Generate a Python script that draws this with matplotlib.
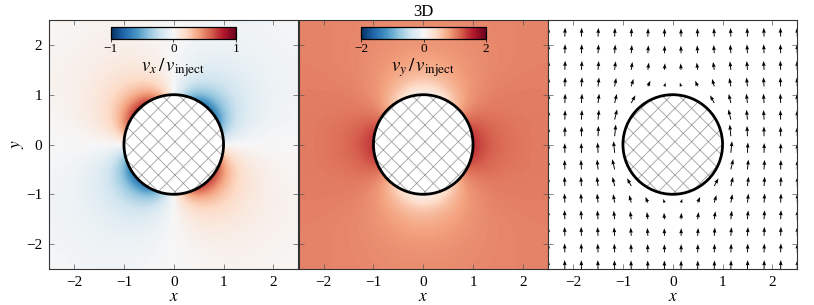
# libraries
import matplotlib
matplotlib.use('Agg')
import matplotlib.pyplot as plt
import numpy as np

plt.rcParams['font.family'] = ['Liberation Serif', 'DejaVu Serif']
plt.rcParams['mathtext.fontset'] = 'stix'
plt.rcParams['font.size'] = 11
plt.rcParams['hatch.linewidth'] = 0.6

# Data: one quadrant only (x >= 0, y >= 0), the panels are symmetric
# heat maps: rows y = 0, 0.25 .. 2.5, columns x = 0, 0.25 .. 2.5
vx_size = [
    [0, 0, 0, 0, 0, 0, 0, 0, 0, 0, 0],
    [0, .70, .80, .80, .32, .14, .07, .04, .02, .01, .01],
    [0, .80, 1.0, .95, .43, .21, .11, .07, .04, .03, .02],
    [0, .80, .95, .63, .37, .21, .13, .08, .05, .03, .02],
    [0, .32, .43, .37, .27, .18, .12, .08, .05, .04, .03],
    [0, .14, .21, .21, .18, .14, .10, .07, .05, .04, .03],
    [0, .07, .11, .13, .12, .10, .08, .06, .05, .04, .03],
    [0, .04, .07, .08, .08, .07, .06, .05, .04, .03, .03],
    [0, .02, .04, .05, .05, .05, .05, .04, .03, .03, .02],
    [0, .01, .03, .03, .04, .04, .04, .03, .03, .02, .02],
    [0, .01, .02, .02, .03, .03, .03, .03, .02, .02, .02],
]
vy_map = [
    [1.0, 1.5, 1.6, 1.7, 1.50, 1.26, 1.15, 1.09, 1.06, 1.04, 1.03],
    [0.0, .75, 1.2, 1.6, 1.38, 1.21, 1.13, 1.09, 1.06, 1.04, 1.03],
    [0.0, .30, .75, 1.05, 1.14, 1.12, 1.09, 1.06, 1.05, 1.04, 1.03],
    [-.3, -.2, .26, .79, .98, 1.03, 1.04, 1.04, 1.03, 1.03, 1.02],
    [0.0, .17, .50, .76, .91, .98, 1.01, 1.02, 1.02, 1.02, 1.02],
    [.49, .55, .68, .81, .90, .96, .99, 1.0, 1.01, 1.01, 1.01],
    [.70, .73, .79, .85, .91, .95, .97, .99, 1.0, 1.0, 1.0],
    [.81, .82, .85, .89, .92, .95, .97, .98, .99, 1.0, 1.0],
    [.88, .88, .90, .92, .94, .96, .97, .98, .99, .99, 1.0],
    [.91, .92, .92, .94, .95, .96, .97, .98, .99, .99, 1.0],
    [.94, .94, .94, .95, .96, .97, .98, .98, .99, .99, .99],
]

# arrows: rows and columns at 1/6, 1/2, 5/6 .. 5/2
nan = np.nan
u_size = [
    [nan, nan, nan, .13, .05, .02, .01, .01],
    [nan, nan, nan, .27, .11, .06, .03, .02],
    [nan, nan, .46, .24, .13, .07, .04, .03],
    [.13, .27, .24, .17, .11, .07, .04, .03],
    [.05, .11, .13, .11, .08, .06, .04, .03],
    [.02, .06, .07, .07, .06, .04, .03, .02],
    [.01, .03, .04, .04, .04, .03, .03, .02],
    [.01, .02, .03, .03, .03, .02, .02, .02],
]
v_map = [
    [nan, nan, nan, 1.29, 1.14, 1.08, 1.05, 1.03],
    [nan, nan, nan, 1.13, 1.09, 1.06, 1.04, 1.03],
    [nan, nan, .85, 1.0, 1.03, 1.03, 1.03, 1.02],
    [.41, .63, .83, .94, .99, 1.01, 1.01, 1.01],
    [.71, .79, .87, .94, .97, .99, 1.0, 1.0],
    [.84, .87, .91, .95, .97, .99, .99, 1.0],
    [.90, .92, .94, .96, .97, .98, .99, 1.0],
    [.94, .94, .95, .97, .98, .98, .99, .99],
]
arrow_pos = [1/6, 1/2, 5/6, 7/6, 3/2, 11/6, 13/6, 5/2]

ticks = [-2, -1, 0, 1, 2]


def mirror(quad, sign_x=1, sign_y=1, skip=1):
    # build all four quadrants from the top right one, row 0 is lowest y
    q = np.array(quad, dtype=float)
    right = np.vstack([sign_y * q[::-1][:len(q) - skip], q])
    left = sign_x * right[:, ::-1][:, :q.shape[1] - skip]
    return np.hstack([left, right])


def pixel_axes(x0, y0, x1, y1):
    # pixel box measured from the top left of the picture
    return fig.add_axes([x0 / 814, 1 - y1 / 305, (x1 - x0) / 814, (y1 - y0) / 305])


def finish(ax):
    circle = plt.Circle((0, 0), 1, facecolor='white', edgecolor='#a0a0a0', hatch='xx', lw=0, zorder=3)
    ax.add_patch(circle)
    ax.add_patch(plt.Circle((0, 0), 1, fill=False, edgecolor='black', lw=2.0, zorder=4))
    ax.set_xlim(-2.5, 2.5)
    ax.set_ylim(-2.5, 2.5)
    ax.set_aspect('equal')
    ax.set_xticks(ticks)
    ax.set_yticks(ticks)
    ax.tick_params(direction='in', top=True, right=True, length=3.5, width=0.5, color='#555555', pad=5)
    ax.set_xlabel('$x$', fontsize=12.5, labelpad=0)
    for side in ax.spines.values():
        side.set_linewidth(0.8)
        side.set_color('#333333')


def heat(ax, values, limit, label, tick_list, box):
    im = ax.imshow(values, origin='lower', extent=(-2.625, 2.625, -2.625, 2.625),
                   cmap='RdBu_r', vmin=-limit, vmax=limit, interpolation='bicubic')
    finish(ax)
    cax = pixel_axes(*box)
    bar = fig.colorbar(im, cax=cax, orientation='horizontal', ticks=tick_list)
    bar.ax.tick_params(length=2, width=0.5, pad=1, labelsize=9.5)
    bar.outline.set_linewidth(0.9)
    bar.set_label(label, fontsize=13.5, labelpad=1)


fig = plt.figure(figsize=(8.14, 3.05), dpi=100)

ax1 = pixel_axes(49, 20, 298.5, 269)
ax2 = pixel_axes(298.5, 20, 548, 269)
ax3 = pixel_axes(548, 20, 797.5, 269)

heat(ax1, mirror(vx_size, sign_x=-1, sign_y=-1) * -1, 1, r'$v_x\,/\,v_{\mathrm{inject}}$', [-1, 0, 1], (111, 27, 236, 39))
heat(ax2, mirror(vy_map), 2, r'$v_y\,/\,v_{\mathrm{inject}}$', [-2, 0, 2], (361, 27, 486, 39))
ax1.set_ylabel('$y$', fontsize=12.5, labelpad=0)
ax2.tick_params(labelleft=False)
ax2.set_title('3D', fontsize=12, pad=3)

pos = np.array(arrow_pos)
grid = np.concatenate([-pos[::-1], pos])
X, Y = np.meshgrid(grid, grid)
U = np.ma.masked_invalid(mirror(u_size, sign_x=-1, sign_y=-1, skip=0) * -1)
V = np.ma.masked_invalid(mirror(v_map, skip=0))
ax3.quiver(X, Y, U, V, pivot='tail', angles='xy', scale_units='xy', scale=5.5, width=0.0038,
           headwidth=4, headlength=5.5, headaxislength=5, color='black')
finish(ax3)
ax3.tick_params(labelleft=False)

fig.savefig('out.png', dpi=100)
